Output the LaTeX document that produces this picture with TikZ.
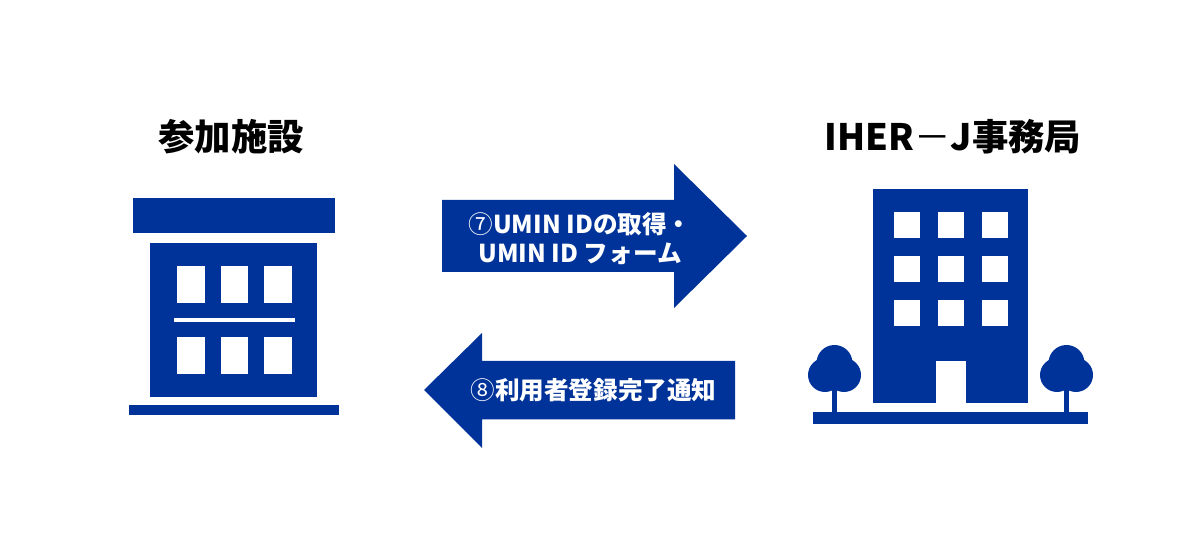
\documentclass[tikz,border=0pt]{standalone}
\usepackage{fontspec}
\newfontfamily\jpfont{Noto Sans CJK JP}
\definecolor{iherblue}{RGB}{0,51,153}
\tikzset{
	solidblue/.style={fill=iherblue,draw=none},
	solidwhite/.style={fill=white,draw=none},
	headlabel/.style={font=\jpfont\bfseries\fontsize{10.35pt}{12pt}\selectfont,text=black,inner sep=0pt},
	arrowlabel/.style={font=\jpfont\bfseries\fontsize{7pt}{8.2pt}\selectfont,text=white,inner sep=0pt,align=center}
}
\begin{document}
\begin{tikzpicture}[x=0.01cm,y=-0.01cm]
		\useasboundingbox (0,0) rectangle (1200,534);

		% left building
		\fill[solidblue] (133,198) rectangle (335,233);
		\fill[solidblue] (150,243) rectangle (317,397);
		\fill[solidblue] (129,405) rectangle (339,415);
		\foreach \wx in {177,220.5,264} {
			\fill[solidwhite] (\wx,266) rectangle ++(27.5,37);
			\fill[solidwhite] (\wx,337) rectangle ++(27.5,37);
		}
		\fill[solidwhite] (174,318) rectangle (295,322);
		\node[headlabel] (facility) at (231,137) {参加施設};

		% right building
		\fill[solidblue] (873,189) rectangle (1028,403);
		\foreach \wx in {893.5,937.5,981.5} {
			\foreach \wy in {212,256.5,300} {
				\fill[solidwhite] (\wx,\wy) rectangle ++(26,26);
			}
		}
		\fill[solidwhite] (935.5,361) rectangle (966,403);
		\fill[solidblue] (813,412) rectangle (1088,424);
		\foreach \tx in {834.5,1066.5} {
			\fill[solidblue] (\tx-2.75,380) rectangle (\tx+2.75,412);
			\fill[solidblue] (\tx,363) circle (18);
			\fill[solidblue] (\tx-9.5,375) circle (17);
			\fill[solidblue] (\tx+9.5,375) circle (17);
		}
		\node[headlabel] (office) at (953,137) {IHER{\mdseries －}J事務局};

		% arrows
		\fill[solidblue] (442,200) -- (674,200) -- (674,164) -- (747,236) -- (674,308) -- (674,272) -- (442,272) -- cycle;
		\fill[solidblue] (735,361) -- (482,361) -- (482,333) -- (424,390) -- (482,448) -- (482,419.5) -- (735,419.5) -- cycle;
		\node[arrowlabel] (request) at (580,239) {{\mdseries ⑦}UMIN IDの取得・\\UMIN ID フォーム};
		\node[arrowlabel] (notice) at (593.5,390) {{\mdseries ⑧}利用者登録完了通知};
	\end{tikzpicture}
\end{document}
